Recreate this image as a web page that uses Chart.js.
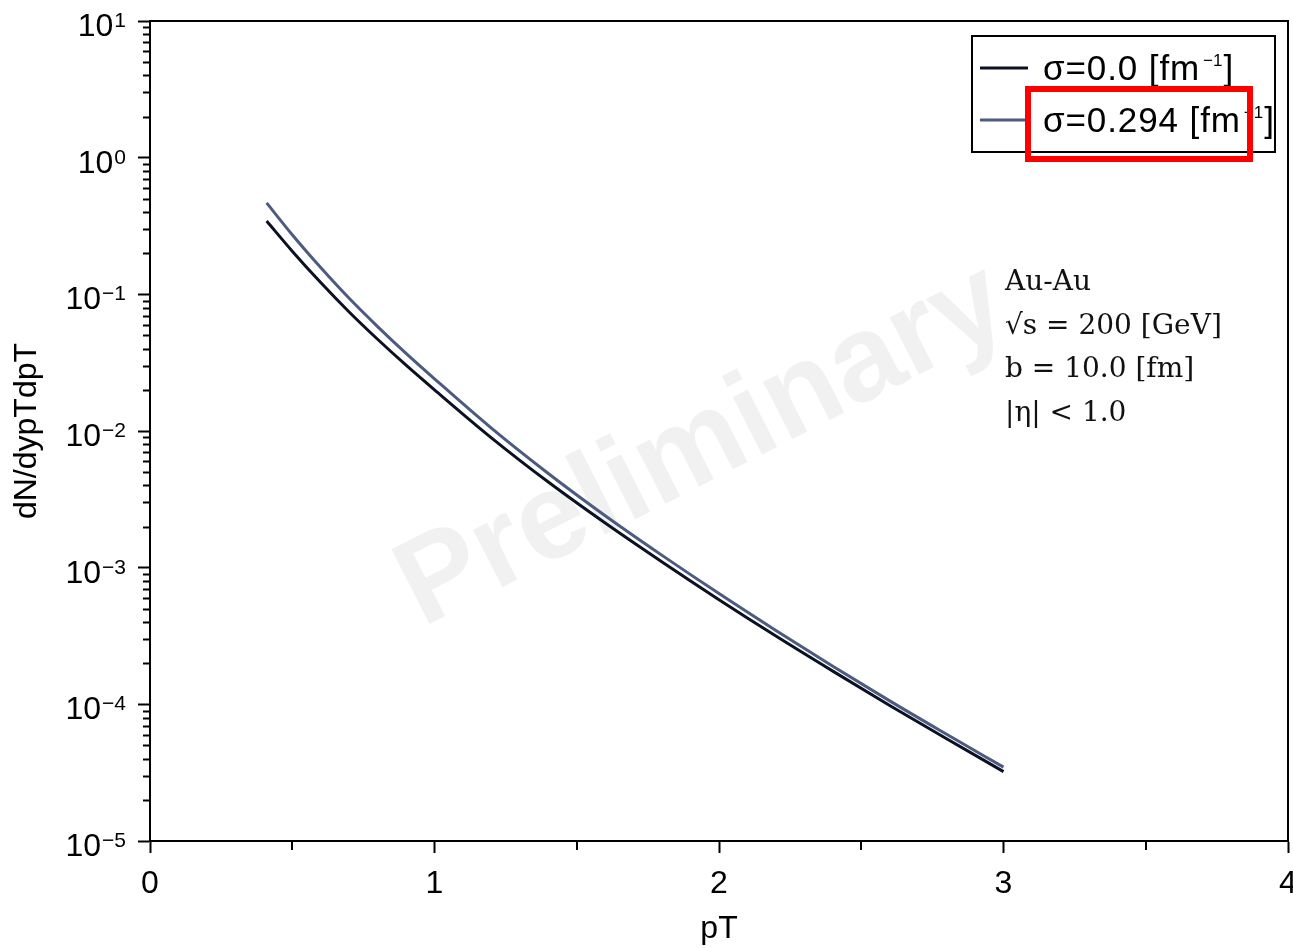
<!DOCTYPE html>
<html>
<head>
<meta charset="utf-8">
<script src="https://cdn.jsdelivr.net/npm/chart.js@4.4.1/dist/chart.umd.min.js"></script>
<style>
  html, body { margin: 0; padding: 0; background: #ffffff; }
  #wrap { width: 1293px; height: 948px; position: relative; }
</style>
</head>
<body>
<div id="wrap"><canvas id="spectrum" width="1293" height="948"></canvas></div>
<script>
// Transverse-momentum spectrum, Au-Au at 200 GeV, two viscosity settings
const pT = [0.41, 0.5, 0.6, 0.7, 0.8, 0.9, 1.0, 1.2, 1.4, 1.6, 1.8, 2.0, 2.2, 2.4, 2.6, 2.8, 3.0];
const dNsigma0 = [0.344, 0.207, 0.122, 0.0743, 0.0469, 0.0303, 0.0200, 0.00891, 0.00423, 0.00212,
                  0.00110, 5.83e-4, 3.16e-4, 1.75e-4, 9.82e-5, 5.60e-5, 3.22e-5];
const dNsigma294 = [0.467, 0.273, 0.157, 0.0935, 0.0581, 0.0370, 0.0241, 0.0105, 0.00489, 0.00240,
                    0.00123, 6.46e-4, 3.47e-4, 1.90e-4, 1.06e-4, 6.04e-5, 3.47e-5];
const seriesLabels = ['σ=0.0', 'σ=0.294'];
const seriesColors = ['#0b1120', '#4c5b80'];
const xTickValues = [0, 1, 2, 3, 4];
const yTickValues = [1e-5, 1e-4, 1e-3, 1e-2, 1e-1, 1, 10];
const noteLines = ['Au-Au', '√s = 200 [GeV]', 'b = 10.0 [fm]', '|η| < 1.0'];

const SANS = '"Liberation Sans", Arial, sans-serif';

// draws a string glyph by glyph with a little extra tracking, returns the end x
function spacedText(c, text, x, y, spacing) {
  for (const ch of text) {
    c.fillText(ch, x, y);
    x += c.measureText(ch).width + spacing;
  }
  return x;
}

// faint diagonal watermark under the curves
const watermark = {
  id: 'watermark',
  beforeDatasetsDraw(chart) {
    const c = chart.ctx;
    c.save();
    c.translate(703, 447);
    c.rotate(-27 * Math.PI / 180);
    c.font = 'bold 122px ' + SANS;
    c.fillStyle = 'rgba(0,0,0,0.055)';
    c.textAlign = 'center';
    c.textBaseline = 'middle';
    c.fillText('Preliminary', 0, 0);
    c.restore();
  }
};

// short minor ticks: 2..9 per decade on y, half steps on x
const minorTicks = {
  id: 'minorTicks',
  afterDraw(chart) {
    const c = chart.ctx, x = chart.scales.x, y = chart.scales.y;
    c.save();
    c.strokeStyle = '#000';
    c.lineWidth = 2;
    c.beginPath();
    for (let e = -5; e < 1; e++) {
      for (let m = 2; m <= 9; m++) {
        const py = Math.round(y.getPixelForValue(m * Math.pow(10, e))) + 0.5;
        c.moveTo(y.right, py);
        c.lineTo(y.right - 7, py);
      }
    }
    for (let v = 0.5; v < 4; v += 1) {
      const px = Math.round(x.getPixelForValue(v));
      c.moveTo(px, x.top);
      c.lineTo(px, x.top + 9);
    }
    c.stroke();
    c.restore();
  }
};

// power-of-ten labels with raised exponents
const yLabels = {
  id: 'yLabels',
  afterDraw(chart) {
    const c = chart.ctx, s = chart.scales.y;
    c.save();
    c.fillStyle = '#000';
    c.textBaseline = 'alphabetic';
    yTickValues.forEach(v => {
      const e = Math.round(Math.log10(v));
      const py = s.getPixelForValue(v);
      const sup = e < 0 ? '\u2212' + (-e) : String(e);
      c.font = '21px ' + SANS;
      const sw = c.measureText(sup).width;
      c.textAlign = 'left';
      c.fillText(sup, 126 - sw, py + 6);
      c.font = '32px ' + SANS;
      c.textAlign = 'right';
      c.fillText('10', 126 - sw - 1, py + 15);
    });
    c.restore();
  }
};

// closed frame round the plot area
const frame = {
  id: 'frame',
  afterDatasetsDraw(chart) {
    const a = chart.chartArea, c = chart.ctx;
    c.save();
    c.strokeStyle = '#000';
    c.lineWidth = 2;
    c.strokeRect(a.left, a.top, a.right - a.left, a.bottom - a.top);
    c.restore();
  }
};

// boxed legend, top right
const legendBox = {
  id: 'legendBox',
  afterDraw(chart) {
    const c = chart.ctx;
    c.save();
    c.fillStyle = '#fff';
    c.fillRect(972, 36, 303, 116);
    c.strokeStyle = '#000';
    c.lineWidth = 2;
    c.strokeRect(972, 36, 303, 116);
    chart.data.datasets.forEach((ds, i) => {
      const cy = 68 + i * 52;
      c.strokeStyle = ds.borderColor;
      c.lineWidth = 3;
      c.beginPath();
      c.moveTo(980, cy);
      c.lineTo(1028, cy);
      c.stroke();
      c.fillStyle = '#000';
      c.textAlign = 'left';
      c.textBaseline = 'alphabetic';
      c.font = '35px ' + SANS;
      let xx = spacedText(c, ds.label + ' [fm', 1043, cy + 12, 0.9);
      c.font = '17px ' + SANS;
      xx = spacedText(c, '\u22121', xx + 3, cy - 2, 0);
      c.font = '35px ' + SANS;
      c.fillText(']', xx + 1, cy + 12);
    });
    c.restore();
  }
};

// collision settings note and the red highlight box
const notes = {
  id: 'notes',
  afterDraw(chart) {
    const c = chart.ctx;
    c.save();
    c.fillStyle = '#111';
    c.font = '28px "DejaVu Serif", serif';
    c.textAlign = 'left';
    c.textBaseline = 'alphabetic';
    noteLines.forEach((t, i) => c.fillText(t, 1005, 290 + i * 43.5));
    c.strokeStyle = '#ff0000';
    c.lineWidth = 6;
    c.strokeRect(1028, 89, 222, 70);
    c.restore();
  }
};

new Chart(document.getElementById('spectrum'), {
  type: 'line',
  data: {
    datasets: [
      {
        label: seriesLabels[0],
        data: pT.map((x, i) => ({ x: x, y: dNsigma0[i] })),
        borderColor: seriesColors[0],
        borderWidth: 3,
        pointRadius: 0,
        cubicInterpolationMode: 'monotone',
        fill: false
      },
      {
        label: seriesLabels[1],
        data: pT.map((x, i) => ({ x: x, y: dNsigma294[i] })),
        borderColor: seriesColors[1],
        borderWidth: 3,
        pointRadius: 0,
        cubicInterpolationMode: 'monotone',
        fill: false
      }
    ]
  },
  options: {
    responsive: false,
    animation: false,
    devicePixelRatio: 1,
    layout: { padding: { top: 21, right: 5, left: 0, bottom: 0 } },
    plugins: { legend: { display: false }, tooltip: { enabled: false } },
    scales: {
      x: {
        type: 'linear',
        min: 0,
        max: 4,
        afterBuildTicks: s => { s.ticks = xTickValues.map(v => ({ value: v })); },
        ticks: { font: { family: SANS, size: 32 }, color: '#000', padding: 12, maxRotation: 0 },
        grid: { drawOnChartArea: false, drawTicks: true, tickLength: 12, tickColor: '#000', tickWidth: 2 },
        border: { color: '#000', width: 2 },
        title: { display: true, text: 'pT', font: { family: SANS, size: 32 }, color: '#000', padding: 0 },
        afterFit: s => { s.height = 107; s.paddingLeft = 0; s.paddingRight = 0; }
      },
      y: {
        type: 'logarithmic',
        min: 1e-5,
        max: 10,
        afterBuildTicks: s => { s.ticks = yTickValues.map(v => ({ value: v })); },
        ticks: { display: false },
        grid: { drawOnChartArea: false, drawTicks: true, tickLength: 12, tickColor: '#000', tickWidth: 2 },
        border: { color: '#000', width: 2 },
        title: { display: true, text: 'dN/dypTdpT', font: { family: SANS, size: 32 }, color: '#000', padding: { top: 8, bottom: 0 } },
        afterFit: s => { s.width = 150; s.paddingTop = 0; s.paddingBottom = 0; }
      }
    }
  },
  plugins: [watermark, minorTicks, yLabels, frame, legendBox, notes]
});
</script>
</body>
</html>
